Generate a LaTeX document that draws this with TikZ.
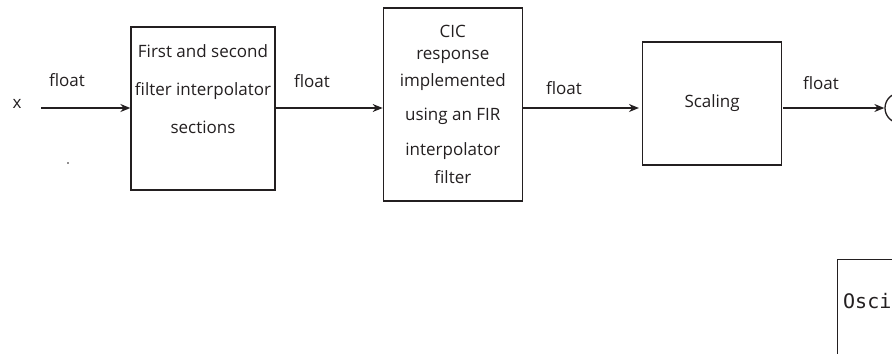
\documentclass[tikz,border=0pt]{standalone}
\usepackage{fontspec}
\setmainfont{Open Sans}
\setmonofont{DejaVu Sans Mono}
\usepackage{tikz}
\usetikzlibrary{positioning,arrows.meta}
\definecolor{ink}{HTML}{231F20}

\begin{document}
\begin{tikzpicture}[
  x=1bp, y=-1bp,
  font=\fontsize{17bp}{22bp}\selectfont,
  blk/.style={
    rectangle, draw=ink, line width=1.3bp, text=ink,
    align=center, inner sep=0pt
  },
  sig/.style={inner sep=0pt, text=ink},
  junc/.style={circle, draw=ink, line width=1.3bp, minimum size=30bp, inner sep=0pt},
  arr/.style={-{Stealth[length=10bp,width=8bp]}, line width=1.3bp, draw=ink}
]
\useasboundingbox (0,0) rectangle (892,353);
\clip (0,0) rectangle (892,353);

% --- input ---
\node[sig] (x) at (17,104) {x};
\coordinate (in) at (41,108);
\fill[ink] (68,163) circle (0.8bp);

% --- first and second filter sections ---
\node[blk, minimum width=144bp, minimum height=163bp] (sec) at (203,108.5) {};
\node[sig, align=center, below=18bp of sec.north] (sectxt)
  {First and second\\[16bp]filter interpolator\\[16bp]sections};

% --- CIC response ---
\node[blk, minimum width=139bp, minimum height=193bp, right=107bp of sec, yshift=4bp] (cic)
  {CIC\\response\\[5bp]implemented\\[12bp]using an FIR\\[13bp]interpolator\\[6bp]filter};

% --- scaling ---
\node[blk, minimum width=139bp, minimum height=123bp, right=119bp of cic, yshift=1bp] (scl)
  {Scaling};

% --- output side (cut at the edge) ---
\node[junc] (sum) at (900,108) {};
\coordinate (out) at (783,108);
\node[blk, anchor=north west, minimum width=120bp, minimum height=140bp] (osc) at (837,259) {};
\node[sig, anchor=west, font=\fontsize{20bp}{24bp}\selectfont\ttfamily] (osctxt) at (843,301) {Osci};

% --- signal type labels ---
\foreach \n/\px/\py in {f1/67/80, f2/312/81, f3/564/88, f4/821/83}
  \node[sig] (\n) at (\px,\py) {float};

% --- arrows ---
\draw[arr] (in) -- (in -| sec.west);
\draw[arr] (in -| sec.east) -- (in -| cic.west);
\draw[arr, shorten >=3bp] (in -| cic.east) -- (in -| scl.west);
\draw[arr] (out) -- (sum);

\end{tikzpicture}
\end{document}
